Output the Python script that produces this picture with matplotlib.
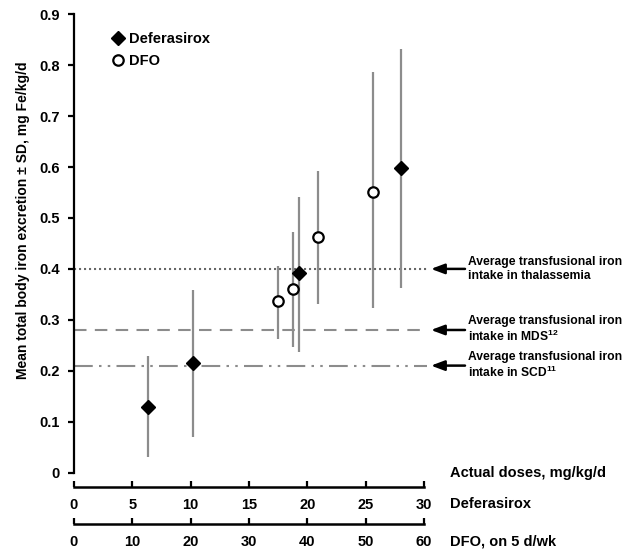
import matplotlib
matplotlib.use('Agg')
import matplotlib.pyplot as plt
from matplotlib.ticker import FuncFormatter

plt.rcParams['font.family'] = ['Liberation Sans', 'DejaVu Sans']
plt.rcParams['font.weight'] = 'bold'
plt.rcParams['mathtext.fontset'] = 'custom'
plt.rcParams['mathtext.rm'] = 'Liberation Sans:bold'
plt.rcParams['mathtext.bf'] = 'Liberation Sans:bold'
plt.rcParams['mathtext.default'] = 'bf'

# deferasirox: actual dose (mg/kg/d), mean excretion, SD limits
dfx_dose = [6.3, 10.2, 19.3, 28.0]
dfx_mean = [0.128, 0.216, 0.391, 0.598]
dfx_low = [0.031, 0.070, 0.237, 0.362]
dfx_high = [0.229, 0.358, 0.542, 0.833]

# DFO: actual dose (mg/kg/d, 5 d/wk), mean excretion, SD limits
dfo_dose = [35.0, 37.6, 41.8, 51.2]
dfo_mean = [0.336, 0.360, 0.462, 0.552]
dfo_low = [0.263, 0.247, 0.331, 0.323]
dfo_high = [0.406, 0.472, 0.592, 0.787]

# reference intake lines
ref_levels = [0.40, 0.28, 0.21]
ref_labels = ['Average transfusional iron\nintake in thalassemia',
              'Average transfusional iron\nintake in MDS$^{12}$',
              'Average transfusional iron\nintake in SCD$^{11}$']

y_ticks = [0, 0.1, 0.2, 0.3, 0.4, 0.5, 0.6, 0.7, 0.8, 0.9]
dfx_ticks = [0, 5, 10, 15, 20, 25, 30]
dfo_ticks = [0, 10, 20, 30, 40, 50, 60]

W, H = 634, 551
x0, unit = 74, 11.67          # pixel of dose 0 and pixels per mg/kg/d
x_max = 30.25
fig = plt.figure(figsize=(W / 100, H / 100), dpi=100)
ax = fig.add_axes([x0 / W, 1 - 472.5 / H, x_max * unit / W, (472.5 - 14.4) / H])

bar_color = '#8c8c8c'
# DFO doses drawn on the deferasirox-equivalent scale (2:1)
dfo_x = [d / 2 for d in dfo_dose]

ax.vlines(dfx_dose, dfx_low, dfx_high, color=bar_color, lw=1.6, zorder=2)
ax.vlines(dfo_x, dfo_low, dfo_high, color=bar_color, lw=1.6, zorder=2)

styles = [dict(ls=(0, (1, 1.4)), color='#666666'),
          dict(ls=(0, (6, 4)), color='#8c8c8c'),
          dict(ls=(0, (9, 3, 1.2, 3, 1.2, 3)), color='#8c8c8c')]
for lvl, st in zip(ref_levels, styles):
    ax.axhline(lvl, lw=1.5, zorder=1, **st)

ax.plot(dfx_dose, dfx_mean, 'D', color='black', ms=7, zorder=3, label='Deferasirox')
ax.plot(dfo_x, dfo_mean, 'o', mfc='white', mec='black', mew=1.6, ms=7.5, zorder=3, label='DFO')

ax.set_xlim(0, x_max)
ax.set_ylim(0, 0.9)
ax.set_yticks(y_ticks)
ax.yaxis.set_major_formatter(FuncFormatter(lambda v, p: '0' if v == 0 else f'{v:.1f}'))
ax.set_xticks([])
for s in ['top', 'right', 'bottom']:
    ax.spines[s].set_visible(False)
ax.spines['left'].set_linewidth(1.6)
ax.tick_params(axis='y', direction='out', length=4, width=1.6, labelsize=10.5, pad=6)
ax.set_ylabel('Mean total body iron excretion \u00b1 SD, mg Fe/kg/d', fontsize=10,
              fontweight='bold')
ax.yaxis.set_label_coords(-0.125, 0.55)

ax.legend(loc='upper left', bbox_to_anchor=(0.062, 0.99), frameon=False, fontsize=10.5,
          handletextpad=0.2, handlelength=1.2, labelspacing=0.55)

for lvl, lab in zip(ref_levels, ref_labels):
    ax.annotate('', xy=(431, lvl), xycoords=('figure pixels', 'data'),
                xytext=(465, lvl), textcoords=('figure pixels', 'data'),
                arrowprops=dict(arrowstyle='-|>,head_length=0.8,head_width=0.3',
                                color='black', lw=1.8, shrinkA=0, shrinkB=0))
    ax.annotate(lab, xy=(468, lvl), xycoords=('figure pixels', 'data'), fontsize=8.7,
                va='center', ha='left', linespacing=1.15)

fig.text(450 / W, 1 - 473 / H, 'Actual doses, mg/kg/d', fontsize=10.5, va='center')

# separate dose scales under the plot, sharing the main x scale
for ypix, ticks, xmax, name in [(487.3, dfx_ticks, 30, 'Deferasirox'),
                                (524.0, dfo_ticks, 60, 'DFO, on 5 d/wk')]:
    bx = fig.add_axes([x0 / W, 1 - ypix / H, 30 * unit / W, 0.001])
    bx.set_xlim(0, xmax)
    bx.set_xticks(ticks)
    bx.set_yticks([])
    for s in ['top', 'right', 'left']:
        bx.spines[s].set_visible(False)
    bx.spines['bottom'].set_linewidth(1.8)
    bx.patch.set_visible(False)
    bx.tick_params(axis='x', direction='in', length=4, width=1.6, labelsize=10.5, pad=8)
    fig.text(450 / W, 1 - (ypix + 17) / H, name, fontsize=10.5, va='center')

fig.savefig('out.png', dpi=100)
